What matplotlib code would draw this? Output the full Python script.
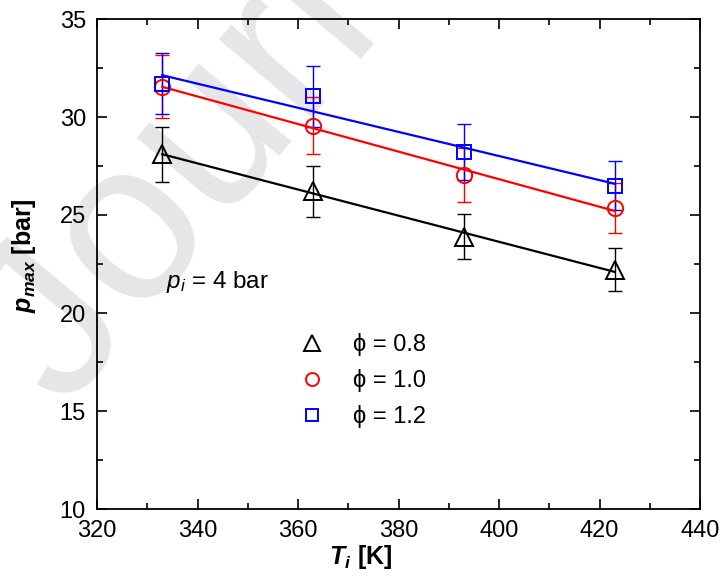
import numpy as np
import matplotlib
matplotlib.use("Agg")
import matplotlib.pyplot as plt
from matplotlib.lines import Line2D
from matplotlib.ticker import MultipleLocator

plt.rcParams['font.family'] = ['Liberation Sans', 'DejaVu Sans']
plt.rcParams['mathtext.fontset'] = 'custom'
plt.rcParams['mathtext.rm'] = 'Liberation Sans'
plt.rcParams['mathtext.it'] = 'Liberation Sans:italic'
plt.rcParams['mathtext.bf'] = 'Liberation Sans:bold'
plt.rcParams['mathtext.bfit'] = 'Liberation Sans:italic:bold'

# Data
T_i = [333, 363, 393, 423]
p_phi08 = [28.1, 26.2, 23.9, 22.2]
err_phi08 = [1.4, 1.3, 1.17, 1.1]
p_phi10 = [31.55, 29.55, 27.05, 25.35]
err_phi10 = [1.6, 1.45, 1.38, 1.28]
p_phi12 = [31.7, 31.05, 28.2, 26.5]
err_phi12 = [1.55, 1.55, 1.42, 1.27]
labels = ['ϕ = 0.8', 'ϕ = 1.0', 'ϕ = 1.2']

fig = plt.figure(figsize=(7.21, 5.81), dpi=100)
ax = fig.add_axes([97/721, 1-509/581, (700-97)/721, (509-19)/581])
ax.set_zorder(2)
ax.set_facecolor('none')

# watermark
fig.text(0.14, 0.24, 'Journal Pre-proof', fontsize=165, color='#e6e6e8',
         rotation=50, ha='left', va='bottom', zorder=-5, rotation_mode='anchor')

series = [
    (p_phi08, err_phi08, 'black', '^', 13),
    (p_phi10, err_phi10, 'red', 'o', 11),
    (p_phi12, err_phi12, 'blue', 's', 10),
]
x = np.array(T_i, dtype=float)
handles = []
for (vals, errs, col, mk, ms), lab in zip(series, labels):
    ax.errorbar(x, vals, yerr=errs, fmt='none', ecolor=col, elinewidth=1.0,
                capsize=5, capthick=1.0, zorder=2)
    coef = np.polyfit(x, vals, 1)
    xf = np.array([x.min(), x.max()])
    ax.plot(xf, np.polyval(coef, xf), color=col, lw=1.6, zorder=3)
    ax.plot(x, vals, linestyle='none', marker=mk, ms=ms, mfc='none',
            mec=col, mew=1.4, zorder=4)
    handles.append(Line2D([], [], linestyle='none', marker=mk, ms=ms*0.85,
                          mfc='none', mec=col, mew=1.4, label=lab))

ax.set_xlim(320, 440)
ax.set_ylim(10, 35)
ax.xaxis.set_major_locator(MultipleLocator(20))
ax.xaxis.set_minor_locator(MultipleLocator(10))
ax.yaxis.set_major_locator(MultipleLocator(5))
ax.yaxis.set_minor_locator(MultipleLocator(2.5))
ax.tick_params(which='both', direction='in', top=True, right=True, width=1.2,
               labelsize=17, colors='black')
ax.tick_params(which='major', length=7)
ax.tick_params(which='minor', length=4)
ax.tick_params(axis='x', which='major', pad=8)
ax.tick_params(axis='y', which='major', pad=8)
for s in ax.spines.values():
    s.set_linewidth(1.3)

ax.set_xlabel(r'$\mathbfit{T}_{\mathbfit{i}}$ [K]', fontsize=18, fontweight='bold')
ax.xaxis.set_label_coords((361 - 97) / 603, (509 - 543) / 490)
ax.set_ylabel(r'$\mathbfit{p}_{\mathbfit{max}}$ [bar]', fontsize=18, fontweight='bold')
ax.yaxis.set_label_coords((38 - 97) / 603, (509 - 256) / 490)

ax.text(333.8, 21.6, r'$\mathit{p}_{\mathit{i}}$ = 4 bar', fontsize=17.5, va='center', ha='left')

ax.legend(handles=handles, loc='upper left', bbox_to_anchor=(0.322, 0.378),
          frameon=False, fontsize=17, handlelength=1.0, handletextpad=1.2,
          labelspacing=0.55, borderaxespad=0)

fig.savefig('out.png', dpi=100)
